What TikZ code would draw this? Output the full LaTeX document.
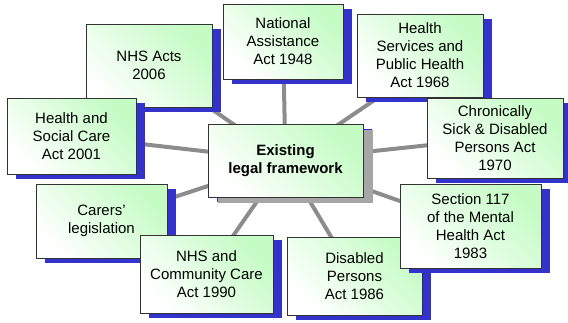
\documentclass[tikz,border=0pt]{standalone}
\usepackage{fontspec}
\setmainfont{Liberation Sans}
\usetikzlibrary{shadows}
\definecolor{shblue}{HTML}{3333CC}
\definecolor{shgrey}{HTML}{A6A6A6}
\definecolor{lnk}{HTML}{8C8C8C}
\definecolor{bord}{HTML}{333333}
\definecolor{lgreen}{HTML}{C4FCC4}
\tikzset{
  actbox/.style={draw=bord, line width=1pt, inner sep=0pt, align=center,
    font=\fontsize{15}{18}\selectfont,
    top color=lgreen, bottom color=white, shading angle=-45,
    drop shadow={shadow xshift=9pt, shadow yshift=-5pt, fill=shblue, opacity=1}},
  mainbox/.style={actbox, font=\fontsize{15}{18}\selectfont\bfseries,
    drop shadow={shadow xshift=10pt, shadow yshift=-6pt, fill=shgrey, opacity=1}},
  link/.style={draw=lnk, line width=4pt}
}
\begin{document}
\begin{tikzpicture}[x=1pt,y=-1pt]
\useasboundingbox (0,0) rectangle (568,322);
% node centres / sizes from reference
\coordinate (cC) at (285.5,160.5);
\coordinate (cNHS) at (149,65.5);
\coordinate (cNAT) at (283,41.5);
\coordinate (cHSC) at (71.5,136);
\coordinate (cHS) at (440,55.5);
\coordinate (cCSD) at (495,138);
\coordinate (cCAR) at (101.5,221);
\coordinate (cCC) at (206.5,274);
\coordinate (cDIS) at (354.5,276);
\coordinate (cS) at (470.5,226);
% connectors
\foreach \t in {cNHS,cNAT,cHSC,cHS,cCSD,cCAR,cCC,cDIS,cS}
  \draw[link] (cC) -- (\t);
% boxes
\node[actbox, minimum width=126pt, minimum height=83pt] (nhs) at (149,65.5) {NHS Acts\\2006};
\node[actbox, minimum width=129pt, minimum height=76pt] (hsc) at (71.5,136) {Health and\\Social Care\\Act 2001};
\node[actbox, minimum width=120pt, minimum height=75pt] (nat) at (283,41.5) {National\\Assistance\\Act 1948};
\node[actbox, minimum width=126pt, minimum height=83pt] (hs) at (420,55.5) {Health\\Services and\\Public Health\\Act 1968};
\node[actbox, minimum width=136pt, minimum height=80pt] (csd) at (495,138) {Chronically\\Sick \& Disabled\\Persons Act\\1970};
\node[actbox, minimum width=131pt, minimum height=74pt] (car) at (101.5,221) {Carers’\\legislation};
\node[actbox, minimum width=133pt, minimum height=78pt] (cc) at (206.5,274) {NHS and\\Community Care\\Act 1990};
\node[actbox, minimum width=135pt, minimum height=78pt] (dis) at (354.5,276) {Disabled\\Persons\\Act 1986};
\node[actbox, minimum width=141pt, minimum height=84pt] (s117) at (470.5,226) {Section 117\\of the Mental\\Health Act\\1983};
\node[mainbox, minimum width=155pt, minimum height=73pt] (main) at (285.5,160.5) {Existing\\legal framework};
\end{tikzpicture}
\end{document}
